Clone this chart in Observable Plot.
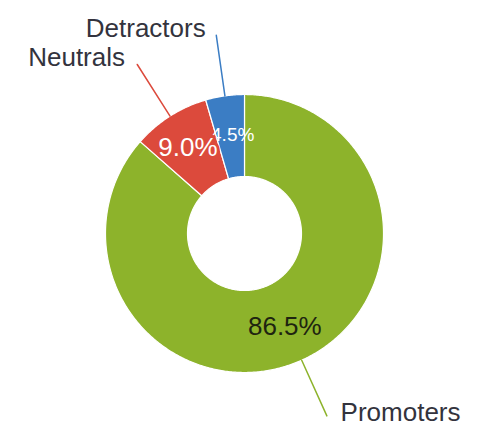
<!DOCTYPE html>
<html>
<head>
<meta charset="utf-8">
<script src="https://cdn.jsdelivr.net/npm/d3@7"></script>
<script src="https://cdn.jsdelivr.net/npm/@observablehq/plot@0.6"></script>
<style>
  html, body { margin: 0; padding: 0; background: #fff; }
  #chart svg { display: block; }
</style>
</head>
<body>
<div id="chart"></div>
<script>
// ---- data ----
const categories = ["Promoters", "Neutrals", "Detractors"];
const values = [86.5, 9.0, 4.5];
const percentLabels = ["86.5%", "9.0%", "4.5%"];
const colors = ["#8db32b", "#dc4a3c", "#3b7dc4"];

// ---- layout ----
const W = 478, H = 426;
const cx = 244, cy = 233, R = 139;   // pixel centre and outer radius
const inner = 0.41;                   // inner radius as fraction of outer
const font = "'Liberation Sans', Arial, Helvetica, sans-serif";

const rows = categories.map((c, i) => ({category: c, value: values[i], label: percentLabels[i], color: colors[i]}));
const arcs = d3.pie().sort(null).value(d => d.value)(rows);

// polygon points for each slice, in unit-circle coordinates (y up, angle clockwise from top)
const pts = [];
for (const a of arcs) {
  const n = Math.max(8, Math.ceil((a.endAngle - a.startAngle) / 0.01));
  for (let k = 0; k <= n; k++) {
    const t = a.startAngle + (a.endAngle - a.startAngle) * k / n;
    pts.push({category: a.data.category, x: Math.sin(t), y: Math.cos(t)});
  }
  for (let k = n; k >= 0; k--) {
    const t = a.startAngle + (a.endAngle - a.startAngle) * k / n;
    pts.push({category: a.data.category, x: inner * Math.sin(t), y: inner * Math.cos(t)});
  }
}

const mid = a => (a.startAngle + a.endAngle) / 2;
const rMid = (1 + inner) / 2;
const centroids = arcs.map(a => ({
  category: a.data.category, label: a.data.label,
  x: rMid * Math.sin(mid(a)), y: rMid * Math.cos(mid(a)),
  small: a.data.value < 5
}));

const leaders = [];
arcs.forEach(a => {
  const m = mid(a);
  leaders.push({category: a.data.category, x: Math.sin(m), y: Math.cos(m)});
  leaders.push({category: a.data.category, x: 1.44 * Math.sin(m), y: 1.44 * Math.cos(m)});
});
const outerLabels = arcs.map(a => {
  const m = mid(a);
  return {category: a.data.category, x: 1.47 * Math.sin(m), y: 1.47 * Math.cos(m), left: Math.sin(m) < 0};
});

const textCommon = {fontFamily: font};

const chart = Plot.plot({
  width: W, height: H,
  marginTop: 0, marginRight: 0, marginBottom: 0, marginLeft: 0,
  x: {domain: [-cx / R, (W - cx) / R], axis: null},
  y: {domain: [-(H - cy) / R, cy / R], axis: null},
  color: {domain: categories, range: colors},
  style: {fontFamily: font, background: "#fff"},
  marks: [
    Plot.line(pts, {x: "x", y: "y", z: "category", fill: "category", stroke: "#fff", strokeWidth: 1.2, curve: "linear-closed"}),
    Plot.line(leaders, {x: "x", y: "y", z: "category", stroke: "category", strokeWidth: 1.5}),
    // small slice label first, so the neighbour's label sits over it
    Plot.text(centroids.filter(d => d.small), {x: "x", y: "y", dx: 2, dy: -2, text: "label", fill: "#fff", fontSize: 19, ...textCommon}),
    Plot.text(centroids.filter(d => !d.small && d.category !== "Promoters"), {x: "x", y: "y", dx: -4, dy: -3, text: "label", fill: "#fff", stroke: "category", strokeWidth: 6, fontSize: 26, ...textCommon}),
    Plot.text(centroids.filter(d => d.category === "Promoters"), {x: "x", y: "y", dy: 4, text: "label", fill: "#1e2410", fontSize: 26, ...textCommon}),
    Plot.text(outerLabels.filter(d => d.left), {x: "x", y: "y", dx: -10, dy: -3, text: "category", textAnchor: "end", fill: "#33333d", fontSize: 26, ...textCommon}),
    Plot.text(outerLabels.filter(d => !d.left), {x: "x", y: "y", dx: 12, dy: -7, text: "category", textAnchor: "start", fill: "#33333d", fontSize: 26, ...textCommon})
  ]
});
document.getElementById("chart").appendChild(chart);
</script>
</body>
</html>
